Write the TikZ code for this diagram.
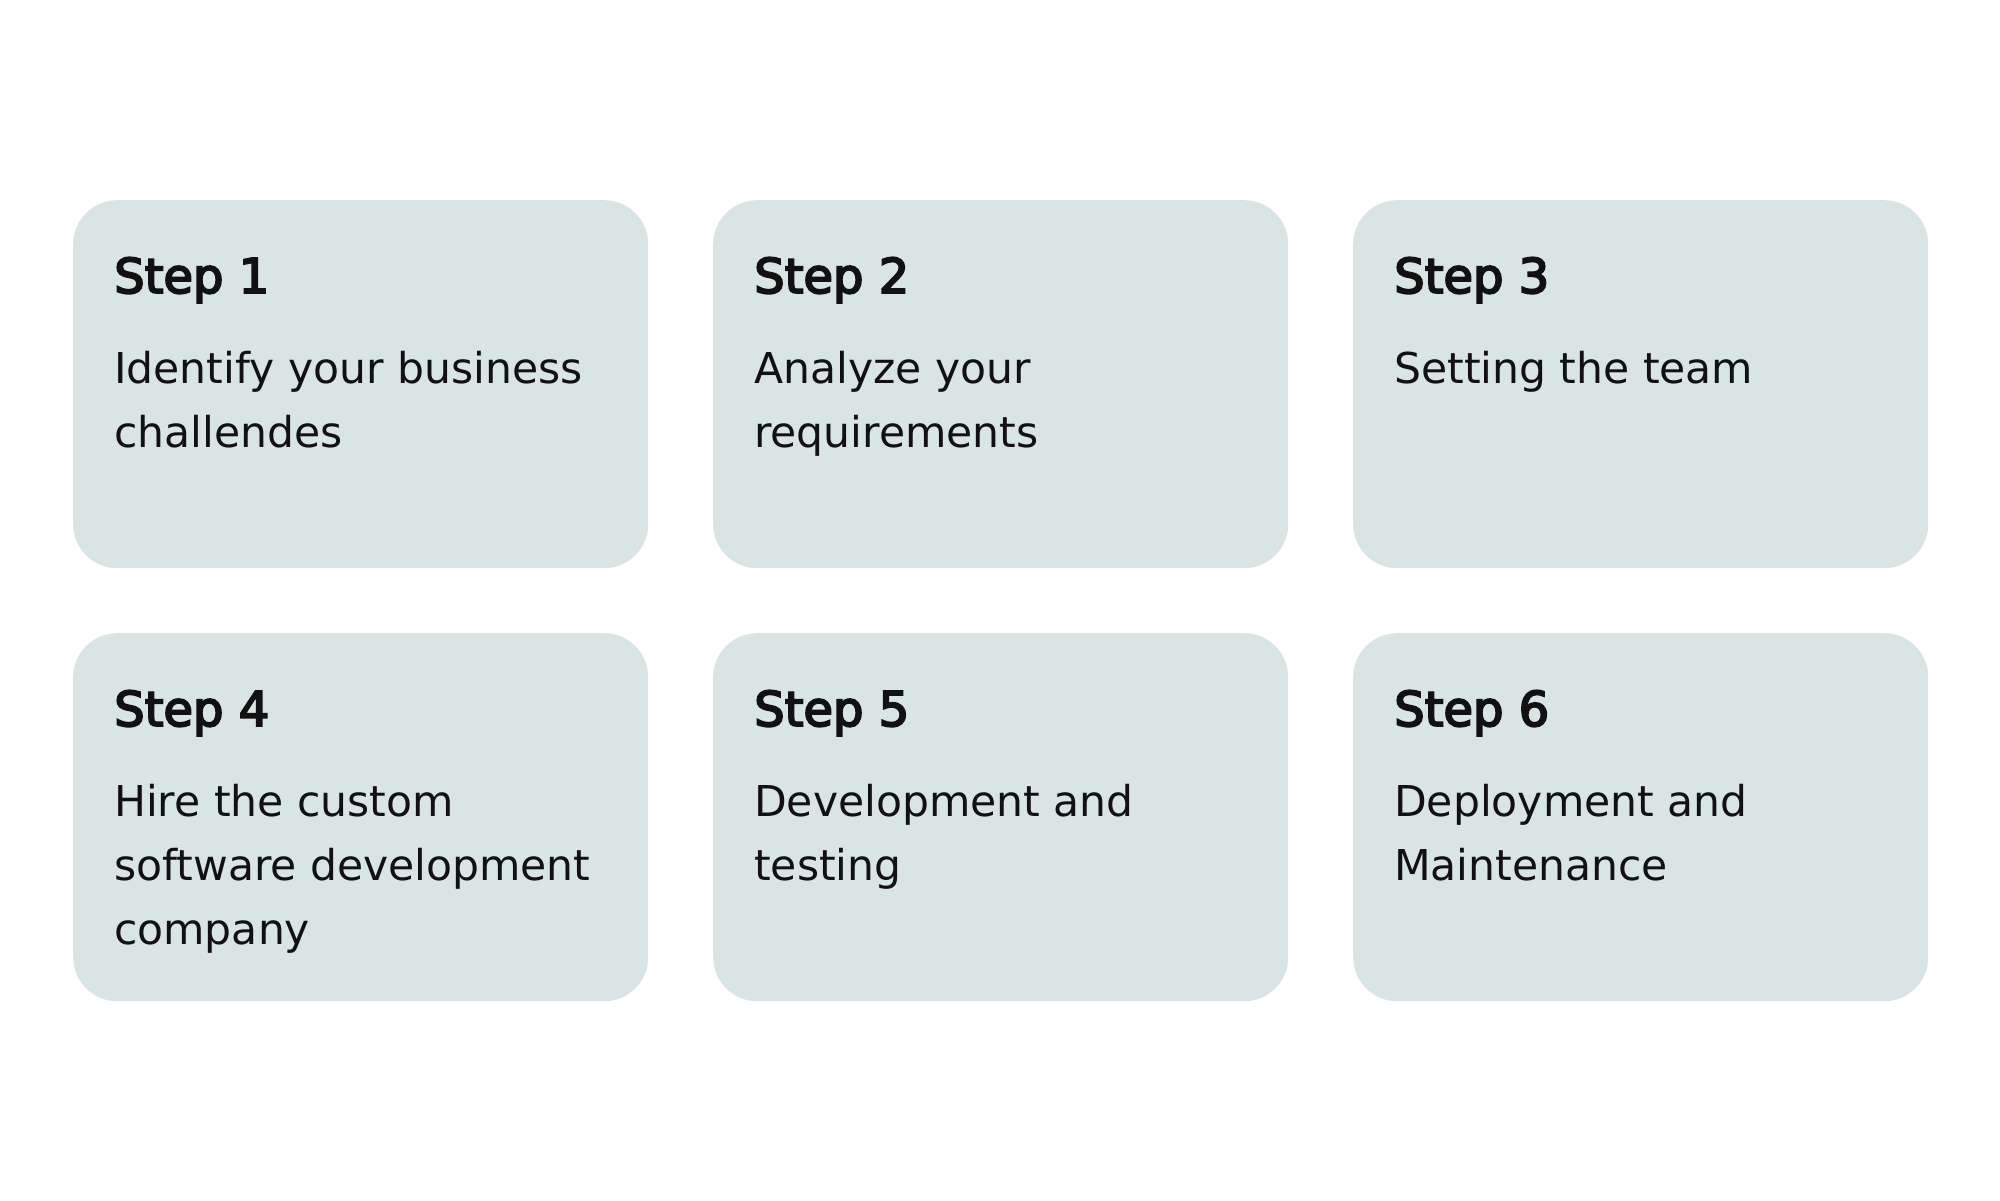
\documentclass[tikz,border=0pt]{standalone}
\usepackage{fontspec}
\setmainfont{DejaVu Sans}
\newfontfamily\headfont[FakeBold=4]{DejaVu Sans}
\newfontfamily\bodyfont{DejaVu Sans}
\definecolor{boxfill}{HTML}{D9E4E4}
\definecolor{ink}{HTML}{111111}
\begin{document}
\begin{tikzpicture}[x=1pt,y=-1pt,
  stepbox/.style={fill=boxfill, draw=none, rounded corners=44pt, minimum width=575pt, minimum height=368pt, anchor=north west, inner sep=0pt},
  headtext/.style={anchor=base west, inner sep=0pt, text=ink, font=\headfont\fontsize{48}{64}\selectfont},
  bodytext/.style={anchor=base west, inner sep=0pt, text=ink, align=left, font=\bodyfont\fontsize{42.5}{64}\selectfont}]
\useasboundingbox (0,0) rectangle (2000,1200);
\fill[white] (0,0) rectangle (2000,1200);
\foreach \n/\x/\y in {1/73/200, 2/713/200, 3/1353/200, 4/73/633, 5/713/633, 6/1353/633}{
  \node[stepbox] (box\n) at (\x,\y) {};
}
\node[headtext] (h1) at (114,293) {Step 1};
\node[headtext] (h2) at (754,293) {Step 2};
\node[headtext] (h3) at (1394,293) {Step 3};
\node[headtext] (h4) at (114,726) {Step 4};
\node[headtext] (h5) at (754,726) {Step 5};
\node[headtext] (h6) at (1394,726) {Step 6};
% base anchor of a multi-line node is the baseline of its last line
\node[bodytext] (t1) at (114,447) {Identify your business\\challendes};
\node[bodytext] (t2) at (754,447) {Analyze your\\requirements};
\node[bodytext] (t3) at (1394,383) {Setting the team};
\node[bodytext] (t4) at (114,944) {Hire the custom\\software development\\company};
\node[bodytext] (t5) at (754,880) {Development and\\testing};
\node[bodytext] (t6) at (1394,880) {Deployment and\\Maintenance};
\end{tikzpicture}
\end{document}
